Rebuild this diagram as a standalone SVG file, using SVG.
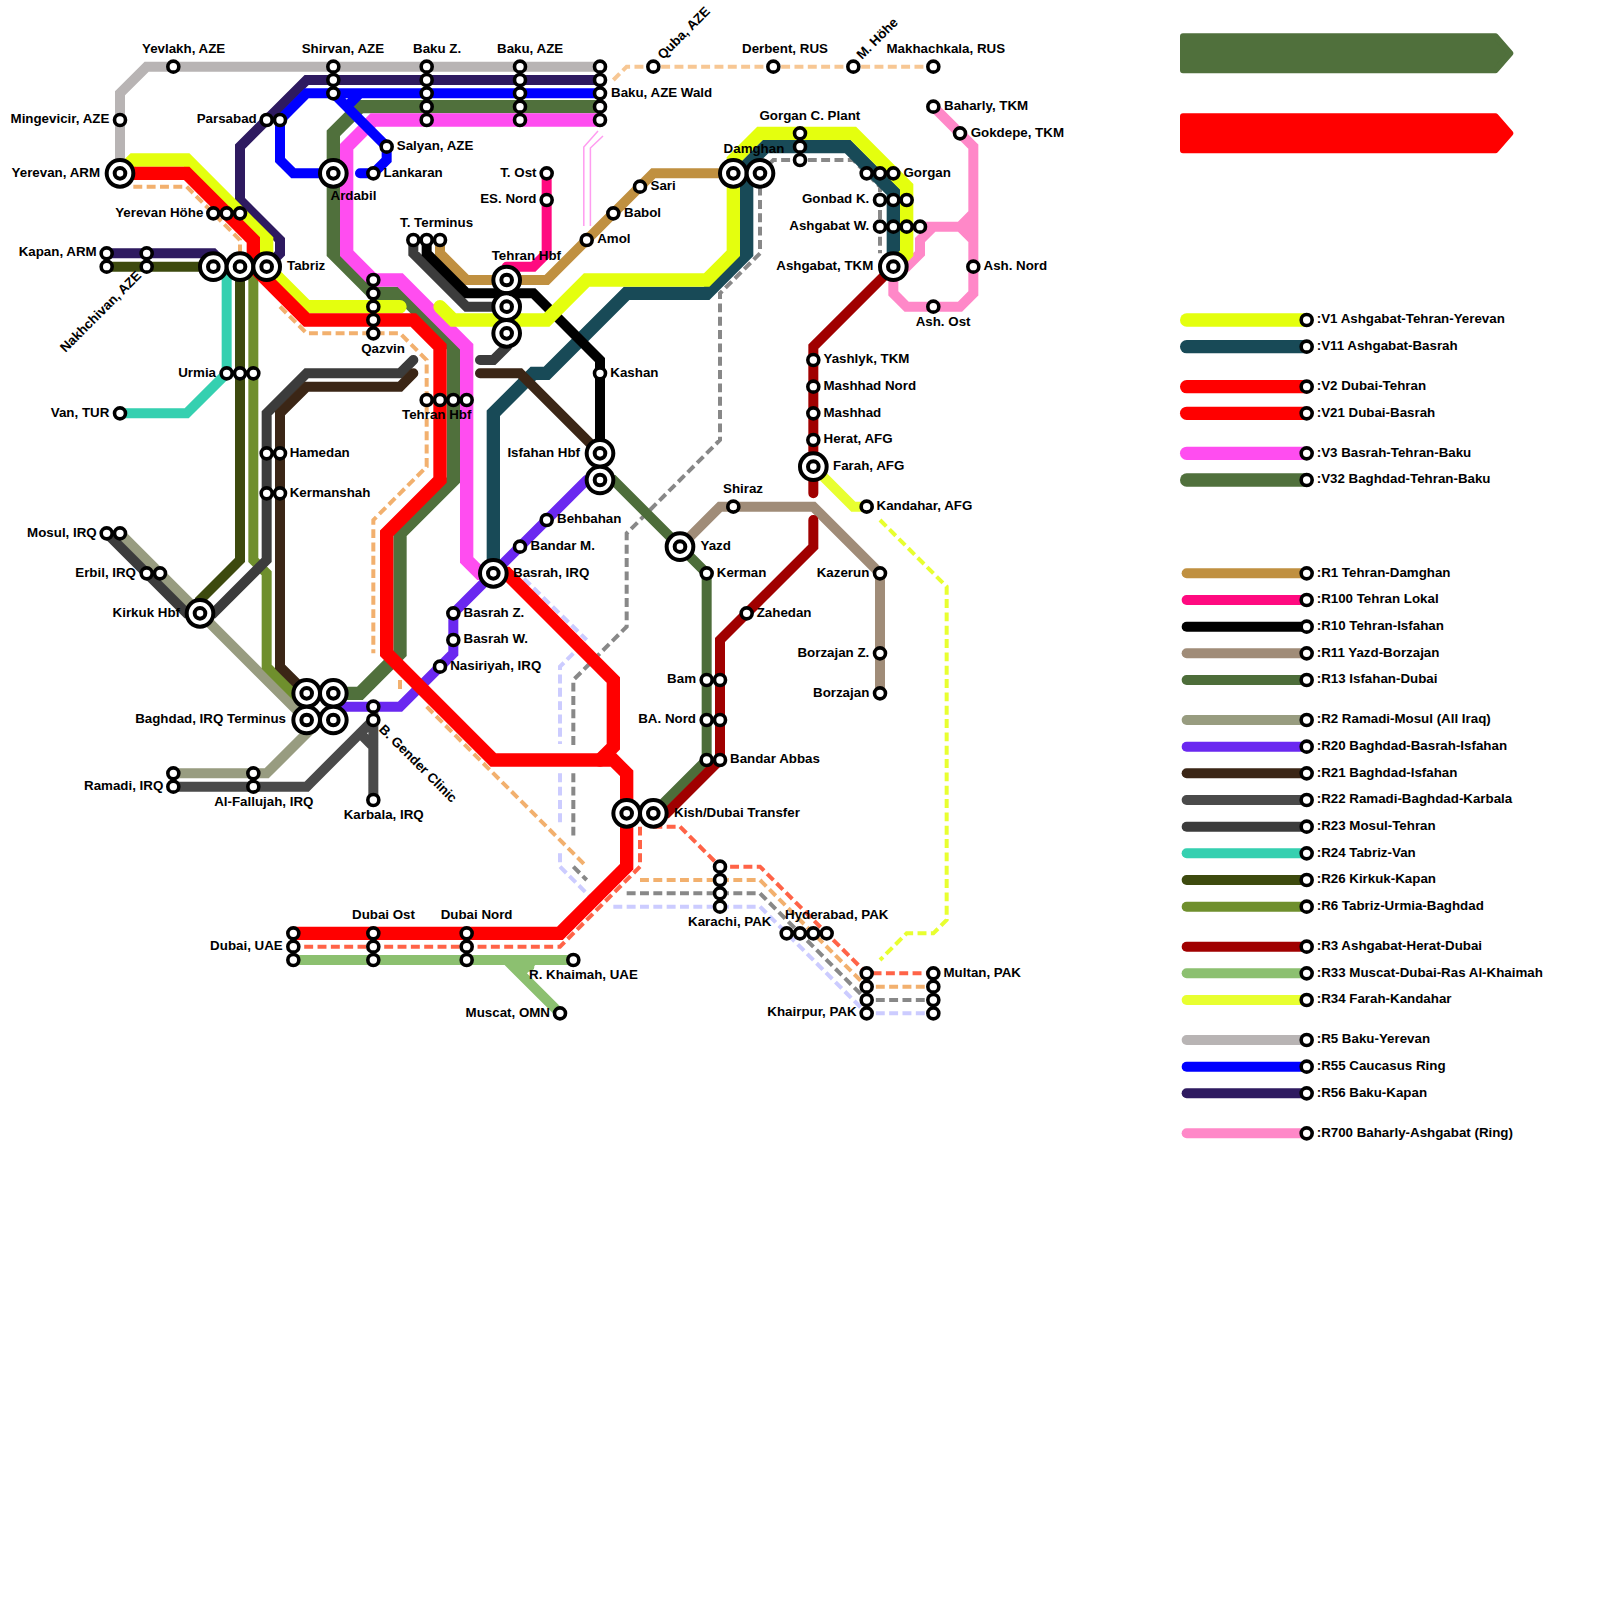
<svg xmlns="http://www.w3.org/2000/svg" width="1600" height="1600" viewBox="0 0 1600 1600">
<style>
text{font:bold 13.33px "Liberation Sans",Arial,sans-serif;fill:#000}
.e{text-anchor:end}
path{fill:none}
#connectors path,#legend-lines path{stroke-linecap:round;stroke-linejoin:miter;stroke-miterlimit:4}
.v{stroke-width:1}
.r{stroke-width:.75}
#connectors path.d{stroke-width:.3;stroke-dasharray:.67 .33;stroke-linecap:butt}
.v1{stroke:#e4ff0e}.v11{stroke:#184a57}.red{stroke:#f00}.v3{stroke:#ff4df0}.v32{stroke:#50703c}
.r1{stroke:#c09040}.r100{stroke:#ff0a80}.r10{stroke:#000}.r11{stroke:#a08c78}.r13{stroke:#4d6d3a}
.r2{stroke:#989c80}.r20{stroke:#6a28f0}.r21{stroke:#3b2616}.r22{stroke:#4a4a4a}.r23{stroke:#3c3c3c}
.r24{stroke:#35d0b0}.r26{stroke:#3d4a0e}.r6{stroke:#6f8f2d}.r3{stroke:#a00000}.r33{stroke:#8cc070}
.r34{stroke:#e8ff30}.r5{stroke:#b8b4b4}.r55{stroke:#00f}.r56{stroke:#2e1a60}.r700{stroke:#ff88c8}
.o{stroke:#f2b06e}.o2{stroke:#f7c794}.tm{stroke:#ff6347}.g{stroke:#888}.l{stroke:#ccf}
.thin{stroke:#ff9cf0;stroke-width:1.5}
.ring{fill:#fff;stroke:#000;stroke-width:4}
.ring2{fill:#fff;stroke:#000;stroke-width:3.6}
</style>
<defs>
<g id="s"><circle class="ring2" r="5.5"/></g>
<g id="b"><circle class="ring" r="13.33"/><circle class="ring" r="5.33"/></g>
</defs>
<g id="big-arrows">
<path d="M1183 36.33H1495.5L1510.3 53.33L1495.5 70.33H1183Z" style="fill:#50703c;stroke:#50703c;stroke-width:6;stroke-linejoin:round"/>
<path d="M1183 116.33H1495.5L1510.3 133.33L1495.5 150.33H1183Z" style="fill:#f00;stroke:#f00;stroke-width:6;stroke-linejoin:round"/>
</g>
<path class="thin" d="M583.8 226V147L598 131M590.4 226V148L603 136"/>
<g id="connectors" transform="scale(13.33333)">
<path class="d o2" d="M46 6L47 5H70"/>
<path class="d l" d="M39.3 43.4L44 48M43 49L42 50V55.8M42 58V62M42 64V65L44.2 67.2M46 68H57L65 76H70"/>
<path class="d g" d="M57 13L58 12H64L66 14V19M57 13V19L54 22V33L47 40V47L43 51V56M43 58V63M43 65L44 66M47 67H57L65 75H70"/>
<path class="d o" d="M10 14H14L18 18V19M21 23L23 25H30L32 27V35L28 39V49M30 51V52M32 53L44 65M48 66H57L65 74H70"/>
<path class="d tm" d="M49 62H51L54 65H57L65 73H70M48 62V65L42 71H22"/>
<path class="d r34" d="M66 39L71 44V69L70 70H68L66 72"/>
<path class="r r5" d="M9 13V7L11 5H45"/>
<path class="r r56" d="M45 6H23L18 11V15L21 18V19L20 20M8 19H16L17 20"/>
<path class="r r2" d="M9 40L23 54M13 58H20L24 54"/>
<path class="r r22" d="M13 59H23L28 54V60M27 55L28 56"/>
<path class="r r24" d="M9 31H14L17 28V20"/>
<path class="r r26" d="M8 20H18V42L15 45V46"/>
<path class="r r6" d="M19 20V42L20 43V50L23 53"/>
<path class="r r23" d="M8 40L14 46H16L20 42V31L23 28H30L31 27M31 18V19L35 23H38M36 27H37L38 26V25"/>
<path class="r r700" d="M70 8L73 11V22L72 23H68L67 22V20M73 16L72 17H69M72 17L73 18M72 17H73M70 17L69 18V19L68 20H67"/>
<path class="r r100" d="M41 13V19L40 20H38"/>
<path class="r r1" d="M33 18V19L35 21H41L49 13H55"/>
<path class="r r33" d="M22 72H43M38 72L42 76M40 72L39 73M38.5 72.5H39.7"/>
<path class="r r11" d="M51 41L54 38H61L66 43V52"/>
<path class="r r13" d="M45 36H46L53 43V57L49 61"/>
<path class="r r3" d="M67 20L61 26V37M61 39V41L54 48V57L50 61H49"/>
<path class="r r20" d="M44 36L34 46V49L30 53H25"/>
<path class="v v32" d="M45 8H27L25 10V19L28 22H30L34 26V36L30 40V49L27 52H25"/>
<path class="v v3" d="M45 9H28L26 11V19L28 21H30L35 26V42L36 43H37"/>
<path class="v v11" d="M37 43V31L40 28H41L47 22H53L56 19V12.41L57.41 11H63.59L67 14.41V20"/>
<path class="r r10" d="M32 18V19L35 22H40L45 27V34"/>
<path class="r r21" d="M23 52L21 50V31L23 29H30L31 28M36 28H39L45 34"/>
<path class="v v1" d="M9 13L10 12H14L20 18V20L23 23H30M33 23L34 24H41L44 21H53L55 19V12L57 10H64L68 14V19L67 20"/>
<path class="r r34" d="M61 35L64 38H65"/>
<path class="v red" d="M9 13H14L19 18V20L23 24H31L33 26V36L29 40V49L37 57H46L47 58V65L42 70H22"/>
<path class="v red" d="M37 43H38L46 51V56L45 57"/>
<path class="r r55" d="M45 7H23L21 9V12L22 13H25M25 7L29 11V12L28 13H27M27 7L26.3 7.7"/>
</g>
<g id="nodes">
<g id="n-yerevan"><use href="#b" x="120" y="173.33"/><text class="e" x="100" y="176.6">Yerevan, ARM</text></g>
<g id="n-mingevicir"><use href="#s" x="120" y="120"/><text class="e" x="109.3" y="123.3">Mingevicir, AZE</text></g>
<g id="n-yevlakh"><use href="#s" x="173.33" y="66.67"/><text x="142" y="53.3">Yevlakh, AZE</text></g>
<g id="n-shirvan"><use href="#s" x="333.33" y="66.67"/><use href="#s" x="333.33" y="80"/><use href="#s" x="333.33" y="93.33"/><text x="301.7" y="53.3">Shirvan, AZE</text></g>
<g id="n-bakuz"><use href="#s" x="426.67" y="66.67"/><use href="#s" x="426.67" y="80"/><use href="#s" x="426.67" y="93.33"/><use href="#s" x="426.67" y="106.67"/><use href="#s" x="426.67" y="120"/><text x="413" y="53.3">Baku Z.</text></g>
<g id="n-baku"><use href="#s" x="520" y="66.67"/><use href="#s" x="520" y="80"/><use href="#s" x="520" y="93.33"/><use href="#s" x="520" y="106.67"/><use href="#s" x="520" y="120"/><text x="497" y="53.3">Baku, AZE</text></g>
<g id="n-bakuwald"><use href="#s" x="600" y="66.67"/><use href="#s" x="600" y="80"/><use href="#s" x="600" y="93.33"/><use href="#s" x="600" y="106.67"/><use href="#s" x="600" y="120"/><text x="611" y="96.7">Baku, AZE Wald</text></g>
<g id="n-quba"><use href="#s" x="653.33" y="66.67"/><text transform="translate(663 60) rotate(-45)">Quba, AZE</text></g>
<g id="n-derbent"><use href="#s" x="773.33" y="66.67"/><text x="742" y="53.3">Derbent, RUS</text></g>
<g id="n-mhohe"><use href="#s" x="853.33" y="66.67"/><text transform="translate(862 60) rotate(-45)">M. Höhe</text></g>
<g id="n-makhachkala"><use href="#s" x="933.33" y="66.67"/><text x="886.5" y="53.3">Makhachkala, RUS</text></g>
<g id="n-baharly"><use href="#s" x="933.33" y="106.67"/><text x="944" y="110">Baharly, TKM</text></g>
<g id="n-gokdepe"><use href="#s" x="960" y="133.33"/><text x="970.7" y="136.6">Gokdepe, TKM</text></g>
<g id="n-gorganc"><use href="#s" x="800" y="133.33"/><use href="#s" x="800" y="146.67"/><use href="#s" x="800" y="160"/><text x="759.5" y="120">Gorgan C. Plant</text></g>
<g id="n-damghan"><use href="#b" x="733.33" y="173.33"/><use href="#b" x="760" y="173.33"/><text x="723.6" y="153">Damghan</text></g>
<g id="n-gorgan"><use href="#s" x="866.67" y="173.33"/><use href="#s" x="880" y="173.33"/><use href="#s" x="893.33" y="173.33"/><text x="903.5" y="176.6">Gorgan</text></g>
<g id="n-gonbad"><use href="#s" x="880" y="200"/><use href="#s" x="893.33" y="200"/><use href="#s" x="906.67" y="200"/><text class="e" x="869.3" y="203.3">Gonbad K.</text></g>
<g id="n-ashw"><use href="#s" x="880" y="226.67"/><use href="#s" x="893.33" y="226.67"/><use href="#s" x="906.67" y="226.67"/><use href="#s" x="920" y="226.67"/><text class="e" x="869.3" y="230">Ashgabat W.</text></g>
<g id="n-ashgabat"><use href="#b" x="893.33" y="266.67"/><text class="e" x="873.3" y="270">Ashgabat, TKM</text></g>
<g id="n-ashnord"><use href="#s" x="973.33" y="266.67"/><text x="983.5" y="270">Ash. Nord</text></g>
<g id="n-ashost"><use href="#s" x="933.33" y="306.67"/><text x="915.7" y="326">Ash. Ost</text></g>
<g id="n-sari"><use href="#s" x="640" y="186.67"/><text x="650.5" y="190">Sari</text></g>
<g id="n-babol"><use href="#s" x="613.33" y="213.33"/><text x="624" y="216.6">Babol</text></g>
<g id="n-amol"><use href="#s" x="586.67" y="240"/><text x="597.2" y="243.3">Amol</text></g>
<g id="n-tost"><use href="#s" x="546.67" y="173.33"/><text class="e" x="536.5" y="176.6">T. Ost</text></g>
<g id="n-esnord"><use href="#s" x="546.67" y="200"/><text class="e" x="536.5" y="203.3">ES. Nord</text></g>
<g id="n-tterminus"><use href="#s" x="413.33" y="240"/><use href="#s" x="426.67" y="240"/><use href="#s" x="440" y="240"/><text x="400" y="226.7">T. Terminus</text></g>
<g id="n-tehranhbf"><use href="#b" x="506.67" y="280"/><use href="#b" x="506.67" y="306.67"/><use href="#b" x="506.67" y="333.33"/><text x="491.7" y="260">Tehran Hbf</text></g>
<g id="n-tehranhbf2"><use href="#s" x="426.67" y="400"/><use href="#s" x="440" y="400"/><use href="#s" x="453.33" y="400"/><use href="#s" x="466.67" y="400"/><text x="402" y="419.3">Tehran Hbf</text></g>
<g id="n-kashan"><use href="#s" x="600" y="373.33"/><text x="610.3" y="376.6">Kashan</text></g>
<g id="n-yashlyk"><use href="#s" x="813.33" y="360"/><text x="823.5" y="363.3">Yashlyk, TKM</text></g>
<g id="n-mashhadn"><use href="#s" x="813.33" y="386.67"/><text x="823.5" y="390">Mashhad Nord</text></g>
<g id="n-mashhad"><use href="#s" x="813.33" y="413.33"/><text x="823.5" y="416.6">Mashhad</text></g>
<g id="n-herat"><use href="#s" x="813.33" y="440"/><text x="823.5" y="443.3">Herat, AFG</text></g>
<g id="n-farah"><use href="#b" x="813.33" y="466.67"/><text x="833" y="470">Farah, AFG</text></g>
<g id="n-kandahar"><use href="#s" x="866.67" y="506.67"/><text x="876.5" y="510">Kandahar, AFG</text></g>
<g id="n-shiraz"><use href="#s" x="733.33" y="506.67"/><text x="723" y="492.6">Shiraz</text></g>
<g id="n-yazd"><use href="#b" x="680" y="546.67"/><text x="700.5" y="550">Yazd</text></g>
<g id="n-kerman"><use href="#s" x="706.67" y="573.33"/><text x="716.8" y="576.6">Kerman</text></g>
<g id="n-zahedan"><use href="#s" x="746.67" y="613.33"/><text x="756.7" y="616.6">Zahedan</text></g>
<g id="n-kazerun"><use href="#s" x="880" y="573.33"/><text class="e" x="869.3" y="576.6">Kazerun</text></g>
<g id="n-borzajanz"><use href="#s" x="880" y="653.33"/><text class="e" x="869.3" y="656.6">Borzajan Z.</text></g>
<g id="n-borzajan"><use href="#s" x="880" y="693.33"/><text class="e" x="869.3" y="696.6">Borzajan</text></g>
<g id="n-bam"><use href="#s" x="706.67" y="680"/><use href="#s" x="720" y="680"/><text class="e" x="696" y="683.3">Bam</text></g>
<g id="n-banord"><use href="#s" x="706.67" y="720"/><use href="#s" x="720" y="720"/><text class="e" x="696" y="723.3">BA. Nord</text></g>
<g id="n-bandarabbas"><use href="#s" x="706.67" y="760"/><use href="#s" x="720" y="760"/><text x="730" y="763.3">Bandar Abbas</text></g>
<g id="n-kish"><use href="#b" x="626.67" y="813.33"/><use href="#b" x="653.33" y="813.33"/><text x="674" y="816.6">Kish/Dubai Transfer</text></g>
<g id="n-karachi"><use href="#s" x="720" y="866.67"/><use href="#s" x="720" y="880"/><use href="#s" x="720" y="893.33"/><use href="#s" x="720" y="906.67"/><text x="688" y="926">Karachi, PAK</text></g>
<g id="n-hyderabad"><use href="#s" x="786.67" y="933.33"/><use href="#s" x="800" y="933.33"/><use href="#s" x="813.33" y="933.33"/><use href="#s" x="826.67" y="933.33"/><text x="785" y="919">Hyderabad, PAK</text></g>
<g id="n-khairpur"><use href="#s" x="866.67" y="973.33"/><use href="#s" x="866.67" y="986.67"/><use href="#s" x="866.67" y="1000"/><use href="#s" x="866.67" y="1013.33"/><text class="e" x="856.7" y="1016">Khairpur, PAK</text></g>
<g id="n-multan"><use href="#s" x="933.33" y="973.33"/><use href="#s" x="933.33" y="986.67"/><use href="#s" x="933.33" y="1000"/><use href="#s" x="933.33" y="1013.33"/><text x="943.5" y="976.6">Multan, PAK</text></g>
<g id="n-dubai"><use href="#s" x="293.33" y="933.33"/><use href="#s" x="293.33" y="946.67"/><use href="#s" x="293.33" y="960"/><text class="e" x="282.7" y="950">Dubai, UAE</text></g>
<g id="n-dubaiost"><use href="#s" x="373.33" y="933.33"/><use href="#s" x="373.33" y="946.67"/><use href="#s" x="373.33" y="960"/><text x="352" y="919.3">Dubai Ost</text></g>
<g id="n-dubainord"><use href="#s" x="466.67" y="933.33"/><use href="#s" x="466.67" y="946.67"/><use href="#s" x="466.67" y="960"/><text x="440.7" y="919.3">Dubai Nord</text></g>
<g id="n-khaimah"><use href="#s" x="573.33" y="960"/><text x="529" y="979">R. Khaimah, UAE</text></g>
<g id="n-muscat"><use href="#s" x="560" y="1013.33"/><text class="e" x="550" y="1016.6">Muscat, OMN</text></g>
<g id="n-karbala"><use href="#s" x="373.33" y="800"/><text x="343.7" y="819">Karbala, IRQ</text></g>
<g id="n-fallujah"><use href="#s" x="253.33" y="773.33"/><use href="#s" x="253.33" y="786.67"/><text x="214.2" y="806">Al-Fallujah, IRQ</text></g>
<g id="n-ramadi"><use href="#s" x="173.33" y="773.33"/><use href="#s" x="173.33" y="786.67"/><text class="e" x="163.3" y="790">Ramadi, IRQ</text></g>
<g id="n-baghdad"><use href="#b" x="306.67" y="693.33"/><use href="#b" x="333.33" y="693.33"/><use href="#b" x="306.67" y="720"/><use href="#b" x="333.33" y="720"/><text class="e" x="286" y="723">Baghdad, IRQ Terminus</text></g>
<g id="n-bgender"><use href="#s" x="373.33" y="706.67"/><use href="#s" x="373.33" y="720"/><text transform="translate(378.3 730) rotate(45)">B. Gender Clinic</text></g>
<g id="n-kirkuk"><use href="#b" x="200" y="613.33"/><text class="e" x="180" y="616.6">Kirkuk Hbf</text></g>
<g id="n-erbil"><use href="#s" x="146.67" y="573.33"/><use href="#s" x="160" y="573.33"/><text class="e" x="136" y="576.6">Erbil, IRQ</text></g>
<g id="n-mosul"><use href="#s" x="106.67" y="533.33"/><use href="#s" x="120" y="533.33"/><text class="e" x="96.7" y="536.6">Mosul, IRQ</text></g>
<g id="n-van"><use href="#s" x="120" y="413.33"/><text class="e" x="109.3" y="416.6">Van, TUR</text></g>
<g id="n-hamedan"><use href="#s" x="266.67" y="453.33"/><use href="#s" x="280" y="453.33"/><text x="289.7" y="456.6">Hamedan</text></g>
<g id="n-kermanshah"><use href="#s" x="266.67" y="493.33"/><use href="#s" x="280" y="493.33"/><text x="289.7" y="496.6">Kermanshah</text></g>
<g id="n-basrahz"><use href="#s" x="453.33" y="613.33"/><text x="463.5" y="616.6">Basrah Z.</text></g>
<g id="n-basrahw"><use href="#s" x="453.33" y="640"/><text x="463.5" y="643.3">Basrah W.</text></g>
<g id="n-nasiriyah"><use href="#s" x="440" y="666.67"/><text x="450.2" y="670">Nasiriyah, IRQ</text></g>
<g id="n-basrah"><use href="#b" x="493.33" y="573.33"/><text x="513" y="576.6">Basrah, IRQ</text></g>
<g id="n-bandarm"><use href="#s" x="520" y="546.67"/><text x="530.5" y="550">Bandar M.</text></g>
<g id="n-behbahan"><use href="#s" x="546.67" y="520"/><text x="557" y="523.3">Behbahan</text></g>
<g id="n-isfahan"><use href="#b" x="600" y="453.33"/><use href="#b" x="600" y="480"/><text class="e" x="580" y="456.6">Isfahan Hbf</text></g>
<g id="n-urmia"><use href="#s" x="226.67" y="373.33"/><use href="#s" x="240" y="373.33"/><use href="#s" x="253.33" y="373.33"/><text class="e" x="216" y="376.6">Urmia</text></g>
<g id="n-kapan"><use href="#s" x="106.67" y="253.33"/><use href="#s" x="106.67" y="266.67"/><text class="e" x="96.7" y="256">Kapan, ARM</text></g>
<g id="n-nakhchivan"><use href="#s" x="146.67" y="253.33"/><use href="#s" x="146.67" y="266.67"/><text transform="translate(65.5 353) rotate(-45)">Nakhchivan, AZE</text></g>
<g id="n-tabriz"><use href="#b" x="213.33" y="266.67"/><use href="#b" x="240" y="266.67"/><use href="#b" x="266.67" y="266.67"/><text x="287" y="270">Tabriz</text></g>
<g id="n-yerevanh"><use href="#s" x="213.33" y="213.33"/><use href="#s" x="226.67" y="213.33"/><use href="#s" x="240" y="213.33"/><text class="e" x="203.3" y="216.6">Yerevan Höhe</text></g>
<g id="n-parsabad"><use href="#s" x="266.67" y="120"/><use href="#s" x="280" y="120"/><text class="e" x="256.7" y="123.3">Parsabad</text></g>
<g id="n-salyan"><use href="#s" x="386.67" y="146.67"/><text x="396.8" y="150">Salyan, AZE</text></g>
<g id="n-lankaran"><use href="#s" x="373.33" y="173.33"/><text x="383.5" y="176.6">Lankaran</text></g>
<g id="n-ardabil"><use href="#b" x="333.33" y="173.33"/><text x="330.5" y="200">Ardabil</text></g>
<g id="n-qazvin"><use href="#s" x="373.33" y="280"/><use href="#s" x="373.33" y="293.33"/><use href="#s" x="373.33" y="306.67"/><use href="#s" x="373.33" y="320"/><use href="#s" x="373.33" y="333.33"/><text x="361.2" y="353.3">Qazvin</text></g>
</g>
<g id="legend-lines" transform="scale(13.33333)">
<path class="v v1" d="M89 24H98"/><path class="v v11" d="M89 26H98"/><path class="v red" d="M89 29H98"/><path class="v red" d="M89 31H98"/><path class="v v3" d="M89 34H98"/><path class="v v32" d="M89 36H98"/>
<path class="r r1" d="M89 43H98"/><path class="r r100" d="M89 45H98"/><path class="r r10" d="M89 47H98"/><path class="r r11" d="M89 49H98"/><path class="r r13" d="M89 51H98"/>
<path class="r r2" d="M89 54H98"/><path class="r r20" d="M89 56H98"/><path class="r r21" d="M89 58H98"/><path class="r r22" d="M89 60H98"/><path class="r r23" d="M89 62H98"/><path class="r r24" d="M89 64H98"/><path class="r r26" d="M89 66H98"/><path class="r r6" d="M89 68H98"/>
<path class="r r3" d="M89 71H98"/><path class="r r33" d="M89 73H98"/><path class="r r34" d="M89 75H98"/>
<path class="r r5" d="M89 78H98"/><path class="r r55" d="M89 80H98"/><path class="r r56" d="M89 82H98"/><path class="r r700" d="M89 85H98"/>
</g>
<g id="legend">
<g><use href="#s" x="1306.67" y="320"/><text x="1316.7" y="323.3">:V1 Ashgabat-Tehran-Yerevan</text></g>
<g><use href="#s" x="1306.67" y="346.67"/><text x="1316.7" y="350">:V11 Ashgabat-Basrah</text></g>
<g><use href="#s" x="1306.67" y="386.67"/><text x="1316.7" y="390">:V2 Dubai-Tehran</text></g>
<g><use href="#s" x="1306.67" y="413.33"/><text x="1316.7" y="416.6">:V21 Dubai-Basrah</text></g>
<g><use href="#s" x="1306.67" y="453.33"/><text x="1316.7" y="456.6">:V3 Basrah-Tehran-Baku</text></g>
<g><use href="#s" x="1306.67" y="480"/><text x="1316.7" y="483.3">:V32 Baghdad-Tehran-Baku</text></g>
<g><use href="#s" x="1306.67" y="573.33"/><text x="1316.7" y="576.6">:R1 Tehran-Damghan</text></g>
<g><use href="#s" x="1306.67" y="600"/><text x="1316.7" y="603.3">:R100 Tehran Lokal</text></g>
<g><use href="#s" x="1306.67" y="626.67"/><text x="1316.7" y="630">:R10 Tehran-Isfahan</text></g>
<g><use href="#s" x="1306.67" y="653.33"/><text x="1316.7" y="656.6">:R11 Yazd-Borzajan</text></g>
<g><use href="#s" x="1306.67" y="680"/><text x="1316.7" y="683.3">:R13 Isfahan-Dubai</text></g>
<g><use href="#s" x="1306.67" y="720"/><text x="1316.7" y="723.3">:R2 Ramadi-Mosul (All Iraq)</text></g>
<g><use href="#s" x="1306.67" y="746.67"/><text x="1316.7" y="750">:R20 Baghdad-Basrah-Isfahan</text></g>
<g><use href="#s" x="1306.67" y="773.33"/><text x="1316.7" y="776.6">:R21 Baghdad-Isfahan</text></g>
<g><use href="#s" x="1306.67" y="800"/><text x="1316.7" y="803.3">:R22 Ramadi-Baghdad-Karbala</text></g>
<g><use href="#s" x="1306.67" y="826.67"/><text x="1316.7" y="830">:R23 Mosul-Tehran</text></g>
<g><use href="#s" x="1306.67" y="853.33"/><text x="1316.7" y="856.6">:R24 Tabriz-Van</text></g>
<g><use href="#s" x="1306.67" y="880"/><text x="1316.7" y="883.3">:R26 Kirkuk-Kapan</text></g>
<g><use href="#s" x="1306.67" y="906.67"/><text x="1316.7" y="910">:R6 Tabriz-Urmia-Baghdad</text></g>
<g><use href="#s" x="1306.67" y="946.67"/><text x="1316.7" y="950">:R3 Ashgabat-Herat-Dubai</text></g>
<g><use href="#s" x="1306.67" y="973.33"/><text x="1316.7" y="976.6">:R33 Muscat-Dubai-Ras Al-Khaimah</text></g>
<g><use href="#s" x="1306.67" y="1000"/><text x="1316.7" y="1003.3">:R34 Farah-Kandahar</text></g>
<g><use href="#s" x="1306.67" y="1040"/><text x="1316.7" y="1043.3">:R5 Baku-Yerevan</text></g>
<g><use href="#s" x="1306.67" y="1066.67"/><text x="1316.7" y="1070">:R55 Caucasus Ring</text></g>
<g><use href="#s" x="1306.67" y="1093.33"/><text x="1316.7" y="1096.6">:R56 Baku-Kapan</text></g>
<g><use href="#s" x="1306.67" y="1133.33"/><text x="1316.7" y="1136.6">:R700 Baharly-Ashgabat (Ring)</text></g>
</g>
</svg>
